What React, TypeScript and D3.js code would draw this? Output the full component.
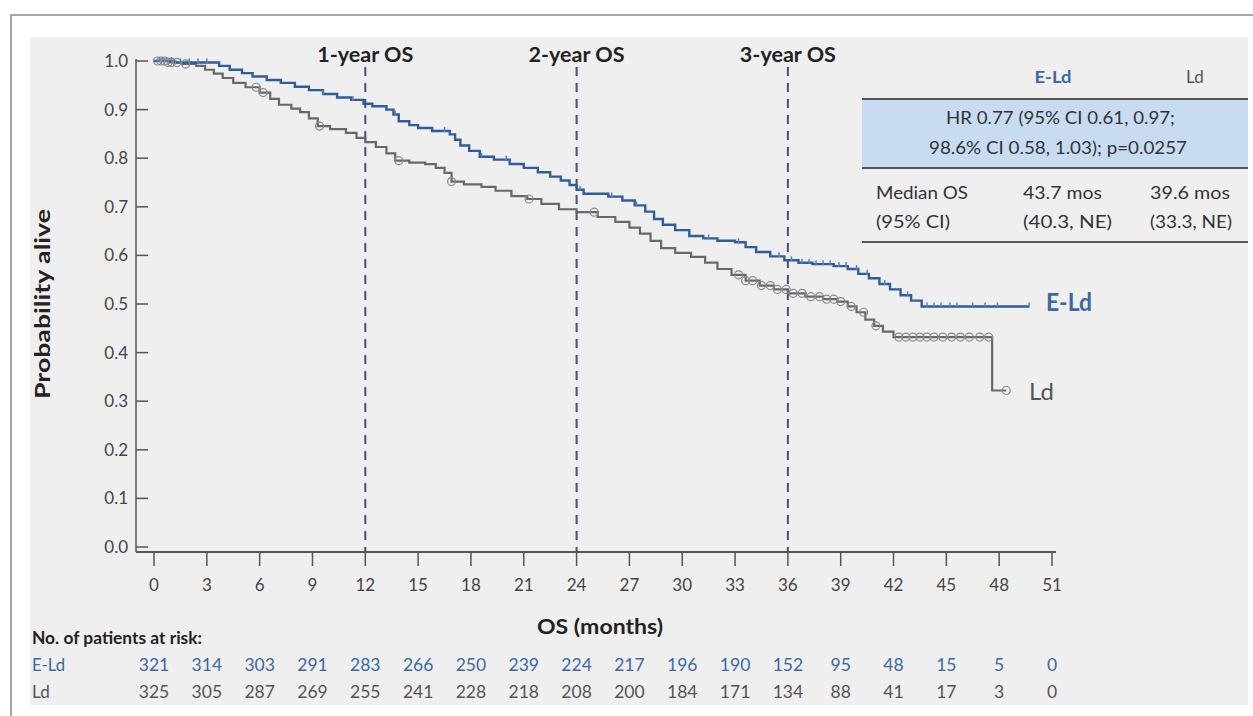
import React from 'react'
import * as d3 from 'd3'

// KM steps: [month, survival]
const eldSteps = [
  [0, 1.0], [1.2, 0.997], [3.7, 0.99], [4.3, 0.982], [5.0, 0.975], [5.6, 0.968], [6.4, 0.961],
  [7.2, 0.955], [8.0, 0.947], [8.8, 0.94], [9.6, 0.932], [10.4, 0.925], [11.2, 0.92], [11.9, 0.912],
  [12.4, 0.907], [13.2, 0.9], [13.6, 0.89], [13.9, 0.876], [14.5, 0.868], [15.0, 0.862], [15.8, 0.856],
  [16.8, 0.849], [17.1, 0.838], [17.4, 0.826], [17.9, 0.815], [18.5, 0.803], [19.3, 0.797], [20.2, 0.788],
  [21.0, 0.78], [21.8, 0.771], [22.5, 0.762], [23.1, 0.754], [23.6, 0.745], [24.0, 0.735], [24.4, 0.727],
  [25.8, 0.721], [26.6, 0.713], [27.3, 0.703], [27.9, 0.69], [28.4, 0.675], [28.9, 0.663], [29.6, 0.652],
  [30.4, 0.64], [31.2, 0.635], [32.0, 0.63], [33.0, 0.627], [33.6, 0.617], [34.2, 0.607], [35.0, 0.598],
  [35.8, 0.59], [36.6, 0.585], [37.4, 0.582], [38.6, 0.578], [39.4, 0.572], [40.0, 0.562], [40.6, 0.553],
  [41.2, 0.541], [41.8, 0.53], [42.4, 0.518], [43.0, 0.507], [43.6, 0.495], [49.7, 0.495]
]

const ldSteps = [
  [0, 1.0], [0.8, 0.997], [1.6, 0.994], [2.4, 0.99], [2.9, 0.982], [3.4, 0.974], [3.9, 0.965],
  [4.5, 0.955], [5.2, 0.946], [6.0, 0.935], [6.6, 0.922], [7.1, 0.91], [7.8, 0.902], [8.3, 0.895],
  [8.8, 0.882], [9.3, 0.866], [10.0, 0.86], [10.9, 0.852], [11.5, 0.842], [12.0, 0.833], [12.6, 0.823],
  [13.2, 0.81], [13.7, 0.795], [14.5, 0.791], [15.4, 0.788], [16.0, 0.78], [16.5, 0.77], [16.9, 0.752],
  [17.6, 0.746], [18.6, 0.741], [19.4, 0.733], [20.3, 0.722], [21.2, 0.716], [22.0, 0.706], [23.0, 0.695],
  [24.0, 0.689], [25.2, 0.679], [26.2, 0.669], [27.0, 0.657], [27.6, 0.645], [28.2, 0.63], [28.8, 0.615],
  [29.6, 0.605], [30.5, 0.597], [31.3, 0.585], [32.0, 0.572], [32.8, 0.56], [33.6, 0.548], [34.4, 0.538],
  [35.2, 0.53], [36.0, 0.522], [37.0, 0.515], [38.0, 0.51], [38.8, 0.505], [39.4, 0.495], [39.9, 0.483],
  [40.4, 0.468], [40.9, 0.455], [41.4, 0.443], [42.0, 0.432], [47.6, 0.322], [48.4, 0.322]
]

const eldCensored = [0.3, 0.5, 0.7, 1.0, 1.5, 2.0, 2.5, 3.0, 9.6, 11.3, 13.7, 16.5, 18.6, 20.0, 24.2, 26.0,
  27.4, 31.5, 33.2, 35.5, 36.2, 36.8, 37.2, 37.6, 38.0, 38.4, 38.9, 39.3, 39.9, 40.5, 41.5, 42.8, 43.9,
  44.3, 44.7, 45.2, 45.6, 46.5, 47.2, 47.9, 49.7]

const ldCensored = [0.2, 0.4, 0.6, 0.8, 1.0, 1.3, 1.8, 5.8, 6.2, 9.4, 13.9, 16.9, 21.3, 25.0, 33.2, 33.6,
  34.0, 34.5, 35.0, 35.4, 35.9, 36.3, 36.8, 37.3, 37.8, 38.2, 38.6, 39.0, 39.6, 40.3, 41.0, 42.3, 42.7,
  43.1, 43.5, 43.9, 44.3, 44.8, 45.3, 45.8, 46.3, 46.9, 47.4, 48.4]

const monthTicks = [0, 3, 6, 9, 12, 15, 18, 21, 24, 27, 30, 33, 36, 39, 42, 45, 48, 51]
const probTicks = [0, 0.1, 0.2, 0.3, 0.4, 0.5, 0.6, 0.7, 0.8, 0.9, 1.0]
const landmarks = [12, 24, 36]
const landmarkLabels = ['1-year OS', '2-year OS', '3-year OS']

const atRiskEld = [321, 314, 303, 291, 283, 266, 250, 239, 224, 217, 196, 190, 152, 95, 48, 15, 5, 0]
const atRiskLd = [325, 305, 287, 269, 255, 241, 228, 218, 208, 200, 184, 171, 134, 88, 41, 17, 3, 0]

const BLUE = '#2f5d9a'
const BLUE_TXT = '#3b68a3'
const GREY = '#686868'
const GREY_TXT = '#555'
const FONT = 'Lato, "Open Sans", sans-serif'

// stretch text to the width it has in the picture
const fit = (w: number) => ({ textLength: w, lengthAdjust: 'spacingAndGlyphs' as const })

export default function App() {
  const x = d3.scaleLinear().domain([0, 51]).range([154, 1052])
  const y = d3.scaleLinear().domain([0, 1]).range([547, 61])
  const axisY = 552

  const line = d3.line<number[]>()
    .x(d => x(d[0]))
    .y(d => y(d[1]))
    .curve(d3.curveStepAfter)

  const bis = d3.bisector((d: number[]) => d[0]).right
  const survAt = (steps: number[][], t: number) => steps[Math.max(0, bis(steps, t) - 1)][1]

  return (
    <svg width={1253} height={716} style={{ position: 'absolute', left: 0, top: 0, fontFamily: FONT }}>
      <rect x={0} y={0} width={1253} height={716} fill="#fff" />
      <rect x={11} y={15} width={1270} height={720} fill="#fff" stroke="#8a8a8a" strokeWidth={1.5} />
      <rect x={30} y={37} width={1218} height={668} fill="#efefef" />

      {/* y axis */}
      <line x1={136} x2={136} y1={y(1) - 2} y2={axisY} stroke="#555" strokeWidth={1.5} />
      {probTicks.map(t => (
        <g key={t}>
          <line x1={136} x2={148} y1={y(t)} y2={y(t)} stroke="#555" strokeWidth={1.5} />
          <text x={128} y={y(t)} dy="0.35em" textAnchor="end" fontSize={17} fill="#444">
            {t.toFixed(1)}
          </text>
        </g>
      ))}
      <text transform={`translate(43,${y(0.5)}) rotate(-90)`} textAnchor="middle" dy="0.35em"
        fontSize={21} fontWeight="bold" fill="#222" {...fit(190)}>Probability alive</text>

      {/* x axis */}
      <line x1={136} x2={x(51) + 4} y1={axisY} y2={axisY} stroke="#555" strokeWidth={2} />
      {monthTicks.map(t => (
        <g key={t}>
          <line x1={x(t)} x2={x(t)} y1={axisY} y2={axisY + 14} stroke="#555" strokeWidth={1.5} />
          <text x={x(t)} y={585} dy="0.35em" textAnchor="middle" fontSize={17} fill="#444">{t}</text>
        </g>
      ))}
      <text x={600} y={627} dy="0.35em" textAnchor="middle" fontSize={21} fontWeight="bold" fill="#222"
        {...fit(126)}>OS (months)</text>

      {/* landmarks */}
      {landmarks.map((m, i) => (
        <g key={m}>
          <line x1={x(m)} x2={x(m)} y1={67} y2={axisY} stroke="#4b4a7c" strokeWidth={2}
            strokeDasharray="9,7" />
          <text x={x(m)} y={55} dy="0.35em" textAnchor="middle" fontSize={20} fontWeight="bold"
            fill="#222" {...fit(96)}>{landmarkLabels[i]}</text>
        </g>
      ))}

      {/* curves */}
      <path d={line(ldSteps) || ''} fill="none" stroke={GREY} strokeWidth={2.2} />
      <path d={line(eldSteps) || ''} fill="none" stroke={BLUE} strokeWidth={2.4} />
      {ldCensored.map((t, i) => (
        <circle key={i} cx={x(t)} cy={y(survAt(ldSteps, t))} r={4} fill="none" stroke="#8a8a8a"
          strokeWidth={1.2} />
      ))}
      {eldCensored.map((t, i) => (
        <line key={i} x1={x(t)} x2={x(t)} y1={y(survAt(eldSteps, t)) - 4} y2={y(survAt(eldSteps, t)) + 1}
          stroke="#5b82b8" strokeWidth={1.5} />
      ))}
      <text x={1046} y={303} dy="0.35em" fontSize={24} fontWeight="bold" fill={BLUE_TXT} {...fit(46)}>E-Ld</text>
      <text x={1029} y={392} dy="0.35em" fontSize={24} fill={GREY_TXT} {...fit(25)}>Ld</text>

      {/* summary table */}
      <text x={1053} y={77} dy="0.35em" textAnchor="middle" fontSize={17} fontWeight="bold"
        fill={BLUE_TXT} {...fit(37)}>E-Ld</text>
      <text x={1195} y={77} dy="0.35em" textAnchor="middle" fontSize={17} fill={GREY_TXT}>Ld</text>
      <rect x={862} y={99} width={386} height={69} fill="#c7dcf1" />
      <line x1={862} x2={1248} y1={99} y2={99} stroke="#555" strokeWidth={2} />
      <line x1={862} x2={1248} y1={168} y2={168} stroke="#555" strokeWidth={2} />
      <line x1={862} x2={1248} y1={242} y2={242} stroke="#555" strokeWidth={2} />
      <text x={946} y={118} dy="0.35em" fontSize={18} fill="#333" {...fit(229)}>
        HR 0.77 (95% CI 0.61, 0.97;
      </text>
      <text x={929} y={148} dy="0.35em" fontSize={18} fill="#333" {...fit(258)}>
        98.6% CI 0.58, 1.03); p=0.0257
      </text>
      <text x={876} y={193} dy="0.35em" fontSize={18} fill="#333" {...fit(92)}>Median OS</text>
      <text x={876} y={222} dy="0.35em" fontSize={18} fill="#333" {...fit(74)}>(95% CI)</text>
      <text x={1023} y={193} dy="0.35em" fontSize={18} fill="#333" {...fit(79)}>43.7 mos</text>
      <text x={1023} y={222} dy="0.35em" fontSize={18} fill="#333" {...fit(89)}>(40.3, NE)</text>
      <text x={1150} y={193} dy="0.35em" fontSize={18} fill="#333" {...fit(80)}>39.6 mos</text>
      <text x={1150} y={222} dy="0.35em" fontSize={18} fill="#333" {...fit(82)}>(33.3, NE)</text>

      {/* patients at risk */}
      <text x={32} y={638} dy="0.35em" fontSize={16.5} fontWeight="bold" fill="#222" {...fit(170)}>
        No. of patients at risk:
      </text>
      <text x={32} y={665} dy="0.35em" fontSize={17} fill={BLUE_TXT} {...fit(33)}>E-Ld</text>
      <text x={32} y={692} dy="0.35em" fontSize={17} fill={GREY_TXT}>Ld</text>
      {monthTicks.map((t, i) => (
        <g key={t}>
          <text x={x(t)} y={665} dy="0.35em" textAnchor="middle" fontSize={17.5} fill={BLUE_TXT}>
            {atRiskEld[i]}
          </text>
          <text x={x(t)} y={692} dy="0.35em" textAnchor="middle" fontSize={17.5} fill={GREY_TXT}>
            {atRiskLd[i]}
          </text>
        </g>
      ))}
    </svg>
  )
}
